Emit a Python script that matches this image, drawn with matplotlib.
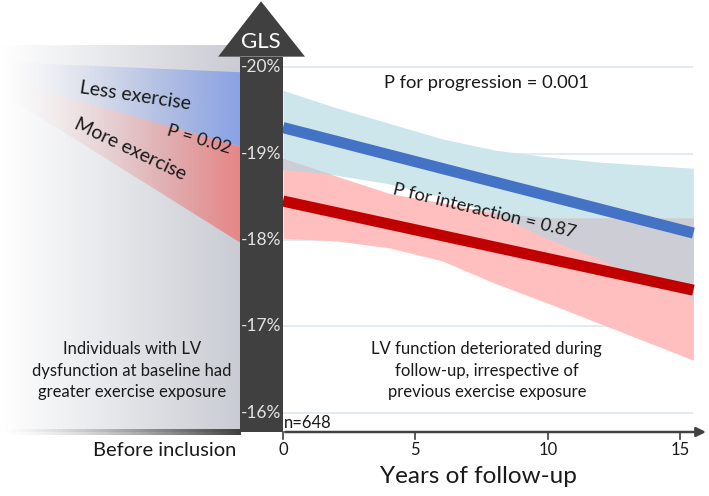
import numpy as np
import matplotlib
matplotlib.use("Agg")
import matplotlib.pyplot as plt
from matplotlib.patches import Polygon, Rectangle

plt.rcParams['font.family'] = ['Lato', 'DejaVu Sans']

# ---- data (years of follow-up / GLS in %) ----
years = [0, 2, 4, 6, 8, 10, 12, 14, 15.5]
less_ci_top = [-19.73, -19.53, -19.35, -19.17, -19.04, -18.96, -18.90, -18.86, -18.83]
less_ci_bot = [-18.81, -18.75, -18.65, -18.50, -18.30, -18.01, -17.77, -17.51, -17.31]
more_ci_top = [-18.94, -18.74, -18.54, -18.43, -18.31, -18.25, -18.25, -18.25, -18.25]
more_ci_bot = [-18.02, -17.99, -17.91, -17.76, -17.50, -17.27, -17.03, -16.79, -16.61]

line_years = [0, 15.5]
less_line = [-19.30, -18.08]
more_line = [-18.45, -17.42]

# trend before inclusion (schematic, years before inclusion)
before_years = [-10.69, -1.62]
less_before_top = [-20.06, -19.94]
split_before = [-19.87, -19.08]
more_before_bot = [-19.71, -17.97]

gls_ticks = [-20, -19, -18, -17, -16]
gls_labels = ['-20%', '-19%', '-18%', '-17%', '-16%']
x_ticks = [0, 5, 10, 15]

# ---- figure ----
W, H = 709, 496
fig = plt.figure(figsize=(W / 100, H / 100), dpi=100)
ax = fig.add_axes([0, 0, 1, 1])
ax.axis('off')

# left "before inclusion" background panel
bg = np.ones((1, 256, 3))
s = np.linspace(0, 1, 256)
end = np.array([0.79, 0.80, 0.83])
for k in range(3):
    bg[0, :, k] = 1 - s * (1 - end[k])
ax.imshow(bg, extent=[-10.69, -1.62, -15.78, -20.25], aspect='auto',
          interpolation='bilinear', zorder=1)

# fading line at bottom of left panel
strip = np.zeros((1, 256, 4))
strip[0, :, :3] = 0.25
strip[0, :, 3] = s ** 1.5
ax.imshow(strip, extent=[-10.69, -1.62, -15.74, -15.80], aspect='auto',
          interpolation='bilinear', zorder=2)


def gradient_wedge(top, bot, color, z):
    verts = [(before_years[0], top[0]), (before_years[1], top[1]),
             (before_years[1], bot[1]), (before_years[0], bot[0])]
    poly = Polygon(verts, closed=True, facecolor='none', edgecolor='none')
    ax.add_patch(poly)
    img = np.zeros((1, 256, 4))
    img[0, :, :3] = matplotlib.colors.to_rgb(color)
    img[0, :, 3] = s ** 1.8
    im = ax.imshow(img, extent=[before_years[0], before_years[1],
                                max(bot), min(top)],
                   aspect='auto', interpolation='bilinear', zorder=z)
    im.set_clip_path(poly)


gradient_wedge(less_before_top, split_before, '#8aa3e6', 3)
gradient_wedge(split_before, more_before_bot, '#e98585', 3)

# GLS arrow (dark bar + head)
dark = '#404040'
ax.add_patch(Rectangle((-1.62, -20.12), 1.62, 4.34, facecolor=dark,
                       edgecolor='none', zorder=5))
ax.add_patch(Polygon([(-2.45, -20.12), (0.83, -20.12), (-0.83, -20.76)],
                     closed=True, facecolor=dark, edgecolor='none', zorder=5))
ax.text(-0.83, -20.29, 'GLS', color='white', fontsize=16,
        ha='center', va='center', zorder=6)
for g, lab in zip(gls_ticks, gls_labels):
    ax.text(-0.06, g, lab, color='#e3e3e3', fontsize=12.5,
            ha='right', va='center', zorder=6)

# gridlines
ax.hlines(gls_ticks, 0, 15.5, color='#dce8ee', lw=1.2, zorder=2)

# follow-up confidence bands
ax.fill_between(years, less_ci_top, less_ci_bot, color='#cce6ec',
                lw=0, zorder=3)
ax.fill_between(years, more_ci_top, more_ci_bot, color='#ffbfbf',
                lw=0, zorder=3)
ax.fill_between(years, more_ci_top, less_ci_bot,
                where=np.array(less_ci_bot) > np.array(more_ci_top),
                interpolate=True, color='#cdcdd5', lw=0, zorder=3)

# mean lines
ax.plot(line_years, less_line, color='#4472c4', lw=8, solid_capstyle='butt',
        zorder=4)
ax.plot(line_years, more_line, color='#c00000', lw=8, solid_capstyle='butt',
        zorder=4)

# x axis
ax.annotate('', xy=(16.08, -15.78), xytext=(-0.02, -15.78),
            arrowprops=dict(arrowstyle='-|>', color=dark, lw=1.8,
                            mutation_scale=14), zorder=6)
for t in x_ticks:
    ax.plot([t, t], [-15.78, -15.70], color=dark, lw=1.2, zorder=6)
    ax.text(t, -15.57, str(t), fontsize=12, ha='center', va='center',
            color='#1a1a1a')

ax.text(-1.75, -15.57, 'Before inclusion', fontsize=14.5, ha='right',
        va='center', color='#1a1a1a')
ax.text(7.4, -15.26, 'Years of follow-up', fontsize=17.5, ha='center',
        va='center', color='#1a1a1a')
ax.text(0.05, -15.88, 'n=648', fontsize=12, ha='left', va='center',
        color='#1a1a1a', zorder=6)

# annotations
ax.text(7.7, -19.82, 'P for progression = 0.001', fontsize=13.2,
        ha='center', va='center', color='#1a1a1a', zorder=7)
ax.text(7.6, -18.34, 'P for interaction = 0.87', fontsize=13.2,
        ha='center', va='center', rotation=-13.5, rotation_mode='anchor',
        color='#1a1a1a', zorder=7)
ax.text(-5.59, -19.67, 'Less exercise', fontsize=14, ha='center',
        va='center', rotation=-8.5, rotation_mode='anchor',
        color='#1a1a1a', zorder=7)
ax.text(-5.78, -19.05, 'More exercise', fontsize=14, ha='center',
        va='center', rotation=-25.5, rotation_mode='anchor',
        color='#1a1a1a', zorder=7)
ax.text(-3.17, -19.16, 'P = 0.02', fontsize=13, ha='center',
        va='center', rotation=-16.5, rotation_mode='anchor',
        color='#1a1a1a', zorder=7)

ax.text(-5.71, -16.49, 'Individuals with LV\ndysfunction at baseline had\n'
        'greater exercise exposure', fontsize=12, ha='center', va='center',
        linespacing=1.45, color='#1a1a1a', zorder=7)
ax.text(7.7, -16.49, 'LV function deteriorated during\nfollow-up, '
        'irrespective of\nprevious exercise exposure', fontsize=12,
        ha='center', va='center', linespacing=1.45, color='#1a1a1a', zorder=7)

ax.set_xlim(-10.69, 16.09)
ax.set_ylim(-15.04, -20.775)

fig.savefig('out.png', dpi=100)
